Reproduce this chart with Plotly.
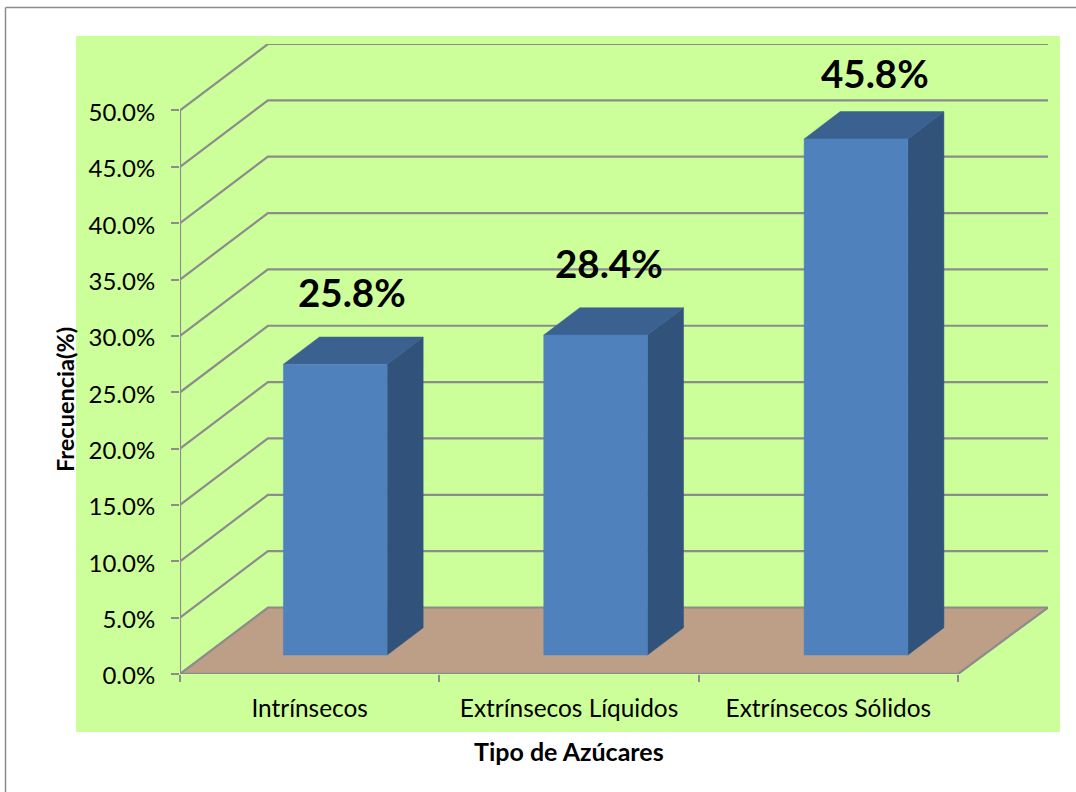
import plotly.graph_objects as go

categories = ["Intrínsecos", "Extrínsecos Líquidos", "Extrínsecos Sólidos"]
values = [25.8, 28.4, 45.8]
value_labels = ["25.8%", "28.4%", "45.8%"]
y_ticks = [0, 5, 10, 15, 20, 25, 30, 35, 40, 45, 50]

FONT = "Lato, Carlito, Calibri, sans-serif"
GRID = "#8c8c8c"

# oblique projection of the fake 3D box, in axis units
DEPTH_X = 0.339
DEPTH_Y = 5.9
BACK_STRETCH = 1.0027
BAR_WIDTH = 0.4
BAR_FRONT = 0.285
BAR_BACK = 0.695
BAR_PITCH = 1.004

# nudges for the value labels, in pixels
LABEL_SHIFT_X = [-19, -23, -17]
LABEL_SHIFT_Y = [0, -1, -7]


def project(x, y, depth):
    return x + DEPTH_X * depth, y + DEPTH_Y * depth


def polygon(points, color):
    xs = [p[0] for p in points] + [points[0][0]]
    ys = [p[1] for p in points] + [points[0][1]]
    return go.Scatter(
        x=xs,
        y=ys,
        mode="lines",
        fill="toself",
        fillcolor=color,
        line={"color": color, "width": 0.5},
        hoverinfo="skip",
        showlegend=False,
    )


def line(xs, ys, width=2.2):
    return go.Scatter(
        x=xs,
        y=ys,
        mode="lines",
        line={"color": GRID, "width": width},
        hoverinfo="skip",
        showlegend=False,
    )


def paper_x(px):
    return (px - 180) / 868


def paper_y(py):
    return (674 - py) / 630


fig = go.Figure()

n = len(categories)
back_end = n * BACK_STRETCH

# floor
floor = [project(0, 0, 0), project(n, 0, 0), project(back_end, 0, 1), project(0, 0, 1)]
fig.add_trace(polygon(floor, "#bd9f87"))

# walls: gridlines run back along the side wall, then across the back wall
for tick in y_ticks:
    bx, by = project(0, tick, 1)
    ex, _ = project(back_end, tick, 1)
    fig.add_trace(line([0, bx, ex], [tick, by, by]))

# axis lines
fig.add_trace(line([0, 0], [0, max(y_ticks)]))
fig.add_trace(line([0, n], [0, 0], width=2.5))
fx, fy = project(back_end, 0, 1)
fig.add_trace(line([n, fx], [0, fy]))

for i, value in enumerate(values):
    center = (i + 0.5) * BAR_PITCH
    left = center - BAR_WIDTH / 2
    right = center + BAR_WIDTH / 2

    front = [
        project(left, 0, BAR_FRONT),
        project(right, 0, BAR_FRONT),
        project(right, value, BAR_FRONT),
        project(left, value, BAR_FRONT),
    ]
    side = [
        project(right, 0, BAR_FRONT),
        project(right, 0, BAR_BACK),
        project(right, value, BAR_BACK),
        project(right, value, BAR_FRONT),
    ]
    top = [
        project(left, value, BAR_FRONT),
        project(right, value, BAR_FRONT),
        project(right, value, BAR_BACK),
        project(left, value, BAR_BACK),
    ]
    fig.add_trace(polygon(side, "#31527a"))
    fig.add_trace(polygon(top, "#3a6190"))
    fig.add_trace(polygon(front, "#4f81bd"))

    lx, ly = project(center, value, BAR_BACK)
    fig.add_annotation(
        x=lx,
        y=ly + 1.8,
        text=f"<b>{value_labels[i]}</b>",
        showarrow=False,
        yanchor="bottom",
        xshift=LABEL_SHIFT_X[i],
        yshift=LABEL_SHIFT_Y[i],
        font={"family": FONT, "size": 38.5, "color": "#000000"},
    )

fig.add_annotation(
    x=paper_x(569),
    y=paper_y(751),
    xref="paper",
    yref="paper",
    xanchor="center",
    yanchor="middle",
    text="<b>Tipo de Azúcares</b>",
    showarrow=False,
    font={"family": FONT, "size": 25, "color": "#000000"},
)
fig.add_annotation(
    x=paper_x(65),
    y=paper_y(399),
    xref="paper",
    yref="paper",
    xanchor="center",
    yanchor="middle",
    text="<b>Frecuencia(%)</b>",
    textangle=-90,
    showarrow=False,
    font={"family": FONT, "size": 23.5, "color": "#000000"},
)

# chart area background and the sheet border
fig.add_shape(
    type="rect",
    xref="paper",
    yref="paper",
    x0=paper_x(76),
    x1=paper_x(1060),
    y0=paper_y(732),
    y1=paper_y(36),
    fillcolor="#ccff99",
    line={"width": 0},
    layer="below",
)
fig.add_shape(
    type="line",
    xref="paper",
    yref="paper",
    x0=paper_x(5.5),
    x1=paper_x(5.5),
    y0=paper_y(792),
    y1=paper_y(7.5),
    line={"color": "#8c8c8c", "width": 1.5},
)
fig.add_shape(
    type="line",
    xref="paper",
    yref="paper",
    x0=paper_x(5.5),
    x1=paper_x(1076),
    y0=paper_y(7.5),
    y1=paper_y(7.5),
    line={"color": "#8c8c8c", "width": 1.5},
)

fig.update_layout(
    width=1076,
    height=792,
    paper_bgcolor="#ffffff",
    plot_bgcolor="rgba(0,0,0,0)",
    margin={"l": 180, "r": 28, "t": 44, "b": 118},
    showlegend=False,
    xaxis={
        "range": [0, 3.347],
        "tickmode": "array",
        "tickvals": [i + 0.5 for i in range(n)],
        "ticktext": categories,
        "ticks": "",
        "ticklabelstandoff": 18,
        "showgrid": False,
        "zeroline": False,
        "showline": False,
        "tickfont": {"family": FONT, "size": 24.4, "color": "#000000"},
        "minor": {
            "tickmode": "array",
            "tickvals": list(range(n + 1)),
            "ticks": "outside",
            "ticklen": 7,
            "tickwidth": 2,
            "tickcolor": GRID,
            "showgrid": False,
        },
    },
    yaxis={
        "range": [0, 55.9],
        "tickmode": "array",
        "tickvals": y_ticks,
        "ticktext": [f"{t:.1f}%" for t in y_ticks],
        "ticks": "outside",
        "ticklen": 8,
        "tickwidth": 2,
        "tickcolor": GRID,
        "ticklabelstandoff": 11,
        "ticklabelshift": 2,
        "showgrid": False,
        "zeroline": False,
        "showline": False,
        "tickfont": {"family": FONT, "size": 24, "color": "#000000"},
    },
)

fig.write_html(
    "out.html",
    config={"displayModeBar": False},
    post_script="document.body.style.margin='0';document.body.style.overflow='hidden';",
)
